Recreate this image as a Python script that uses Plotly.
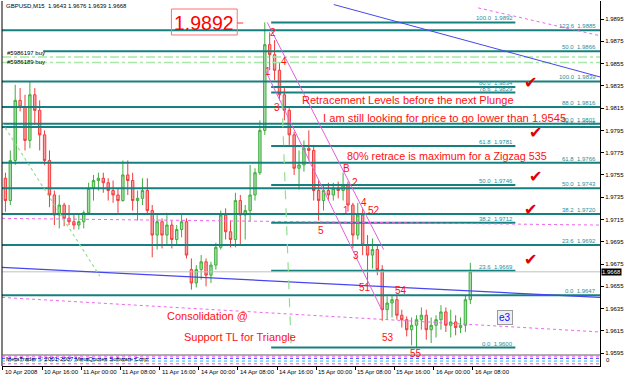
import plotly.graph_objects as go

# ---------------- data (hour 0 = 10 Apr 2008 08:00, M15 chart aggregated to hourly) -------------
hours = list(range(96))
bar_open = [1.9752, 1.9732, 1.9768, 1.9822, 1.9816, 1.9786, 1.9827, 1.9813, 1.9791, 1.9768,
            1.9737, 1.9719, 1.9728, 1.9716, 1.9713, 1.9710, 1.9713, 1.9721, 1.9743, 1.9750,
            1.9752, 1.9748, 1.9741, 1.9737, 1.9732, 1.9755, 1.9750, 1.9732, 1.9734, 1.9741,
            1.9723, 1.9701, 1.9713, 1.9701, 1.9710, 1.9697, 1.9706, 1.9713, 1.9670, 1.9658,
            1.9670, 1.9677, 1.9665, 1.9674, 1.9690, 1.9719, 1.9704, 1.9697, 1.9732, 1.9719,
            1.9723, 1.9737, 1.9757, 1.9795, 1.9872, 1.9863, 1.9849, 1.9827, 1.9813, 1.9791,
            1.9761, 1.9764, 1.9779, 1.9777, 1.9741, 1.9732, 1.9741, 1.9737, 1.9743, 1.9741,
            1.9746, 1.9728, 1.9701, 1.9719, 1.9692, 1.9683, 1.9688, 1.9670, 1.9634, 1.9640,
            1.9643, 1.9629, 1.9625, 1.9616, 1.9620, 1.9625, 1.9629, 1.9616, 1.9620, 1.9625,
            1.9632, 1.9620, 1.9623, 1.9618, 1.9620, 1.9643]
bar_high = [1.9757, 1.9777, 1.9836, 1.9833, 1.9827, 1.9839, 1.9833, 1.9822, 1.9795, 1.9777,
            1.9741, 1.9737, 1.9730, 1.9728, 1.9719, 1.9719, 1.9723, 1.9748, 1.9755, 1.9757,
            1.9757, 1.9752, 1.9750, 1.9743, 1.9768, 1.9768, 1.9757, 1.9741, 1.9752, 1.9752,
            1.9728, 1.9719, 1.9716, 1.9721, 1.9714, 1.9710, 1.9719, 1.9716, 1.9680, 1.9674,
            1.9683, 1.9680, 1.9677, 1.9694, 1.9723, 1.9725, 1.9714, 1.9739, 1.9737, 1.9728,
            1.9764, 1.9761, 1.9804, 1.9892, 1.9883, 1.9876, 1.9856, 1.9833, 1.9815, 1.9794,
            1.9777, 1.9786, 1.9795, 1.9782, 1.9750, 1.9746, 1.9748, 1.9748, 1.9749, 1.9757,
            1.9749, 1.9730, 1.9730, 1.9725, 1.9701, 1.9698, 1.9692, 1.9674, 1.9646, 1.9647,
            1.9647, 1.9634, 1.9628, 1.9627, 1.9629, 1.9636, 1.9634, 1.9627, 1.9629, 1.9638,
            1.9636, 1.9634, 1.9629, 1.9627, 1.9647, 1.9676]
bar_low = [1.9722, 1.9728, 1.9764, 1.9812, 1.9777, 1.9779, 1.9800, 1.9777, 1.9764, 1.9726,
           1.9710, 1.9707, 1.9709, 1.9710, 1.9706, 1.9706, 1.9707, 1.9719, 1.9732, 1.9741,
           1.9739, 1.9732, 1.9730, 1.9721, 1.9731, 1.9737, 1.9723, 1.9714, 1.9728, 1.9719,
           1.9681, 1.9688, 1.9689, 1.9692, 1.9689, 1.9692, 1.9699, 1.9680, 1.9652, 1.9654,
           1.9661, 1.9655, 1.9658, 1.9670, 1.9688, 1.9697, 1.9690, 1.9690, 1.9692, 1.9697,
           1.9713, 1.9732, 1.9755, 1.9791, 1.9849, 1.9840, 1.9822, 1.9804, 1.9782, 1.9755,
           1.9742, 1.9758, 1.9768, 1.9732, 1.9714, 1.9723, 1.9732, 1.9732, 1.9734, 1.9732,
           1.9722, 1.9689, 1.9697, 1.9683, 1.9658, 1.9671, 1.9665, 1.9624, 1.9625, 1.9627,
           1.9625, 1.9618, 1.9610, 1.9602, 1.9600, 1.9616, 1.9607, 1.9604, 1.9609, 1.9616,
           1.9614, 1.9609, 1.9611, 1.9613, 1.9614, 1.9639]
bar_close = [1.9732, 1.9768, 1.9822, 1.9816, 1.9786, 1.9827, 1.9813, 1.9791, 1.9768, 1.9737,
             1.9719, 1.9728, 1.9716, 1.9713, 1.9710, 1.9713, 1.9721, 1.9743, 1.9750, 1.9752,
             1.9748, 1.9741, 1.9737, 1.9732, 1.9755, 1.9750, 1.9732, 1.9734, 1.9741, 1.9723,
             1.9701, 1.9713, 1.9701, 1.9710, 1.9697, 1.9706, 1.9713, 1.9683, 1.9658, 1.9670,
             1.9677, 1.9665, 1.9674, 1.9690, 1.9719, 1.9704, 1.9697, 1.9732, 1.9719, 1.9723,
             1.9737, 1.9757, 1.9795, 1.9872, 1.9863, 1.9849, 1.9827, 1.9813, 1.9791, 1.9761,
             1.9764, 1.9779, 1.9777, 1.9741, 1.9732, 1.9741, 1.9737, 1.9743, 1.9741, 1.9746,
             1.9728, 1.9701, 1.9719, 1.9692, 1.9683, 1.9688, 1.9670, 1.9634, 1.9640, 1.9643,
             1.9629, 1.9625, 1.9616, 1.9620, 1.9625, 1.9629, 1.9616, 1.9620, 1.9625, 1.9632,
             1.9620, 1.9623, 1.9618, 1.9620, 1.9643, 1.9668]

x_tick_hours = [0, 8, 16, 24, 32, 40, 48, 56, 64, 72, 80, 88, 96]
x_tick_text = ["10 Apr 2008", "10 Apr 16:00", "11 Apr 00:00", "11 Apr 08:00", "11 Apr 16:00",
               "14 Apr 00:00", "14 Apr 08:00", "14 Apr 16:00", "15 Apr 00:00", "15 Apr 08:00",
               "15 Apr 16:00", "16 Apr 00:00", "16 Apr 08:00"]
price_ticks = [1.9895, 1.9875, 1.9855, 1.9835, 1.9815, 1.9795, 1.9775, 1.9755, 1.9735,
               1.9715, 1.9695, 1.9675, 1.9655, 1.9635, 1.9615, 1.9595]

# Fibonacci A (from 1.9892 peak down to 1.9600 low)
fibA_pct = ["0.0", "23.6", "38.2", "50.0", "61.8", "78.6", "80.0", "100.0"]
fibA_price = [1.9600, 1.9669, 1.9712, 1.9746, 1.9781, 1.9829, 1.9834, 1.9892]
fibA_hours = [54.8, 104.7]
# Fibonacci B (full width)
fibB_pct = ["0.0", "23.6", "38.2", "50.0", "61.8", "78.6", "80.0", "88.0", "100.0", "123.6"]
fibB_price = [1.9647, 1.9692, 1.9720, 1.9743, 1.9766, 1.9798, 1.9801, 1.9816, 1.9839, 1.9885]
fibB_hours = [-0.2, 122.0]
fibC_pct = ["50.0"]
fibC_price = [1.9866]
fibC_hours = [8.2, 122.0]

order_names = ["#5986197 buy", "#5986189 buy"]
order_price = [1.9861, 1.9856]

bid_price = 1.9668
header = "GBPUSD,M15  1.9643 1.9676 1.9639 1.9668"

# trend lines: (hour0, price0, hour1, price1)
trend_blue_top = (67.6, 1.9908, 122.0, 1.9843)
trend_magenta_top = (97.1, 1.9905, 122.0, 1.9880)
trend_support = (-0.2, 1.9672, 122.0, 1.9645)
trend_magenta_mid = (-0.2, 1.9716, 122.0, 1.9710)
trend_magenta_low = (-0.2, 1.9645, 122.0, 1.9614)
channel_upper = (54.0, 1.9892, 77.8, 1.9688)
channel_lower = (53.6, 1.9849, 77.6, 1.9632)
green_diag = (-0.2, 1.9802, 19.8, 1.9664)
green_vert = (57.0, 1.9822, 58.9, 1.9600)

# ---------------- figure ----------------
W, H = 625, 380
ML, MR, MT, MB = 2, 23, 1, 14
PW, PH = W - ML - MR, H - MT - MB


def PX(px):
    return (px - ML) / PW


def PY(py):
    return (H - MB - py) / PH


main_bottom = PY(355)

fig = go.Figure()
fig.add_trace(go.Candlestick(
    x=[h + 0.5 for h in hours], open=bar_open, high=bar_high, low=bar_low, close=bar_close,
    increasing=dict(line=dict(color="#3fae3f", width=1), fillcolor="#a6dca6"),
    decreasing=dict(line=dict(color="#f03c3c", width=1), fillcolor="#f7a3a3"),
    whiskerwidth=0, hoverinfo="skip", showlegend=False, xaxis="x", yaxis="y"))
fig.add_trace(go.Scatter(x=[0, 121], y=[0.5, 0.5], mode="lines", line=dict(color="rgba(0,0,0,0)"),
                         showlegend=False, hoverinfo="skip", xaxis="x", yaxis="y2"))

shapes = []
annotations = []
TEAL = "#16807f"
FIBTXT = "#2a8e9a"


def seg(t, color, width=1, dash="solid", layer="above"):
    shapes.append(dict(type="line", xref="x", yref="y", x0=t[0], y0=t[1], x1=t[2], y1=t[3],
                       line=dict(color=color, width=width, dash=dash), layer=layer))


def note(text, x, y, size, color, xanchor="center", yanchor="middle", xref="paper", yref="paper",
         family="Liberation Sans", **kw):
    annotations.append(dict(x=x, y=y, xref=xref, yref=yref, text=text, showarrow=False,
                            xanchor=xanchor, yanchor=yanchor,
                            font=dict(size=size, color=color, family=family), **kw))


# fib B full width
for pct, p in zip(fibB_pct, fibB_price):
    seg((fibB_hours[0], p, fibB_hours[1], p), TEAL, 2)
    note(f"{pct}  {p:.4f}", fibB_hours[1] - 0.4, p, 6, FIBTXT, "right", "bottom", "x", "y", yshift=-1)
for pct, p in zip(fibC_pct, fibC_price):
    seg((fibC_hours[0], p, fibC_hours[1], p), TEAL, 2)
    note(f"{pct}  {p:.4f}", fibC_hours[1] - 0.4, p, 6, FIBTXT, "right", "bottom", "x", "y", yshift=-1)
for pct, p in zip(fibA_pct, fibA_price):
    seg((fibA_hours[0], p, fibA_hours[1], p), TEAL, 2)
    note(f"{pct}  {p:.4f}", fibA_hours[1], p, 6, FIBTXT, "right", "bottom", "x", "y", yshift=-1)

# order lines
for i, (name, p) in enumerate(zip(order_names, order_price)):
    seg((-0.2, p, 122.0, p), "#a8e8a8", 1.5, "dashdot")
    note(name, PX(5), p, 6, "#000000", "left", "middle", "paper", "y", yshift=4 if i == 0 else 0)

# bid line
seg((-0.2, bid_price, 122.0, bid_price), "#c0c0c0", 1)

# trendlines
seg(trend_blue_top, "#4646f0", 1)
seg(trend_magenta_top, "#ee66ee", 1, "dot")
seg(trend_support, "#4646f0", 1.3)
seg(trend_magenta_mid, "#ee66ee", 1, "dot")
seg(trend_magenta_low, "#ee66ee", 1, "dot")
seg(channel_upper, "#e060e0", 1)
seg(channel_lower, "#e060e0", 1)
seg(green_diag, "#90e090", 1.2, "dot")
seg(green_vert, "#90e090", 1.2, "dash")

# borders
shapes.append(dict(type="line", xref="paper", yref="paper", x0=0, x1=0, y0=0, y1=1,
                   line=dict(color="#000000", width=1)))
shapes.append(dict(type="line", xref="paper", yref="paper", x0=0, x1=1, y0=main_bottom, y1=main_bottom,
                   line=dict(color="#606060", width=1)))
# indicator subwindow decoration
for yy, col in [(0.2, "#ff40ff"), (0.45, "#20c0ff"), (0.7, "#3030ff"), (0.9, "#ff40ff")]:
    shapes.append(dict(type="line", xref="paper", yref="y2", x0=0, x1=1, y0=yy, y1=yy,
                       line=dict(color=col, width=1, dash="dot")))

# 1.9892 box
shapes.append(dict(type="rect", xref="paper", yref="paper", x0=PX(172), x1=PX(238), y0=PY(35), y1=PY(9),
                   line=dict(color="#ff7070", width=1)))
shapes.append(dict(type="line", xref="paper", yref="paper", x0=PX(238), x1=PX(244), y0=PY(23), y1=PY(23),
                   line=dict(color="#ff3030", width=1)))
note("1.9892", PX(205), PY(22.5), 19.5, "#ff0000")

# header
note(header, PX(4), PY(6), 6, "#000000", "left")

RED = "#ff1010"
texts = [("Retracement Levels before the next Plunge", 409, 100, 11),
         ("I am still looking for price to go lower than 1.9545", 446, 118, 11.2),
         ("80% retrace is maximum for a Zigzag 535", 448, 156, 10.8),
         ("Consolidation @", 208, 316, 11),
         ("Support TL for Triangle", 241, 337, 11)]
for t, x, y, s in texts:
    note(t, PX(x), PY(y), s, RED)

waves = [("2", 274, 33), ("4", 285, 62), ("1", 269, 72), ("3", 278, 107), ("B", 348, 168),
         ("2", 356, 183), ("5", 322, 230), ("1", 347, 210), ("4", 365, 203), ("52", 375, 210),
         ("3", 357, 255), ("51", 366, 287), ("54", 402, 290), ("53", 389, 337), ("55", 417, 353)]
for t, x, y in waves:
    note(t, PX(x), PY(y), 10, RED)

for x, y in [(532, 83), (537, 133), (537, 176), (532, 209), (532, 259)]:
    note("✔", PX(x), PY(y), 16, "#e00000", family="DejaVu Sans")

# e3 label
note("e3", PX(507), PY(317), 10, "#1010ff", bgcolor="#eeeef6", bordercolor="#9a9a9a",
     borderwidth=1, borderpad=1)

# bottom copyright
note("MetaTrader © 2001-2007 MetaQuotes Software Corp.", PX(4), PY(359), 6, "#000000", "left")
note("0", PX(606), PY(360), 6, "#000000", "left")
# current price label
note(f"{bid_price:.4f}", 1.0, bid_price, 6, "#ffffff", "left", "middle", "paper", "y",
     xshift=1, bgcolor="#000000", borderpad=0)

# time labels
for h, t in zip(x_tick_hours, x_tick_text):
    note(t, h, PY(372), 6, "#000000", "left", "middle", "x", "paper")

fig.update_layout(
    width=W, height=H, margin=dict(l=ML, r=MR, t=MT, b=MB),
    paper_bgcolor="#ffffff", plot_bgcolor="#ffffff",
    showlegend=False, shapes=shapes, annotations=annotations,
    xaxis=dict(domain=[0, 1], range=[-0.2, 122.0], anchor="y2", showgrid=False, zeroline=False,
               tickvals=x_tick_hours, showticklabels=False, ticks="outside", ticklen=3,
               tickcolor="#000000", showline=True, linecolor="#000000", linewidth=1,
               rangeslider=dict(visible=False)),
    yaxis=dict(domain=[main_bottom, 1], range=[1.95933, 1.99112], side="right", anchor="x",
               tickvals=price_ticks, ticktext=[f"{v:.4f}" for v in price_ticks], ticks="outside",
               ticklen=3, tickcolor="#000000", showline=True, linecolor="#000000", linewidth=1,
               showgrid=False, zeroline=False,
               tickfont=dict(size=6, color="#000000", family="Liberation Sans")),
    yaxis2=dict(domain=[0, main_bottom], range=[0, 1], side="right", anchor="x", showline=True,
                linecolor="#000000", showticklabels=False, showgrid=False, zeroline=False, ticks=""),
)

fig.write_html("out.html")
